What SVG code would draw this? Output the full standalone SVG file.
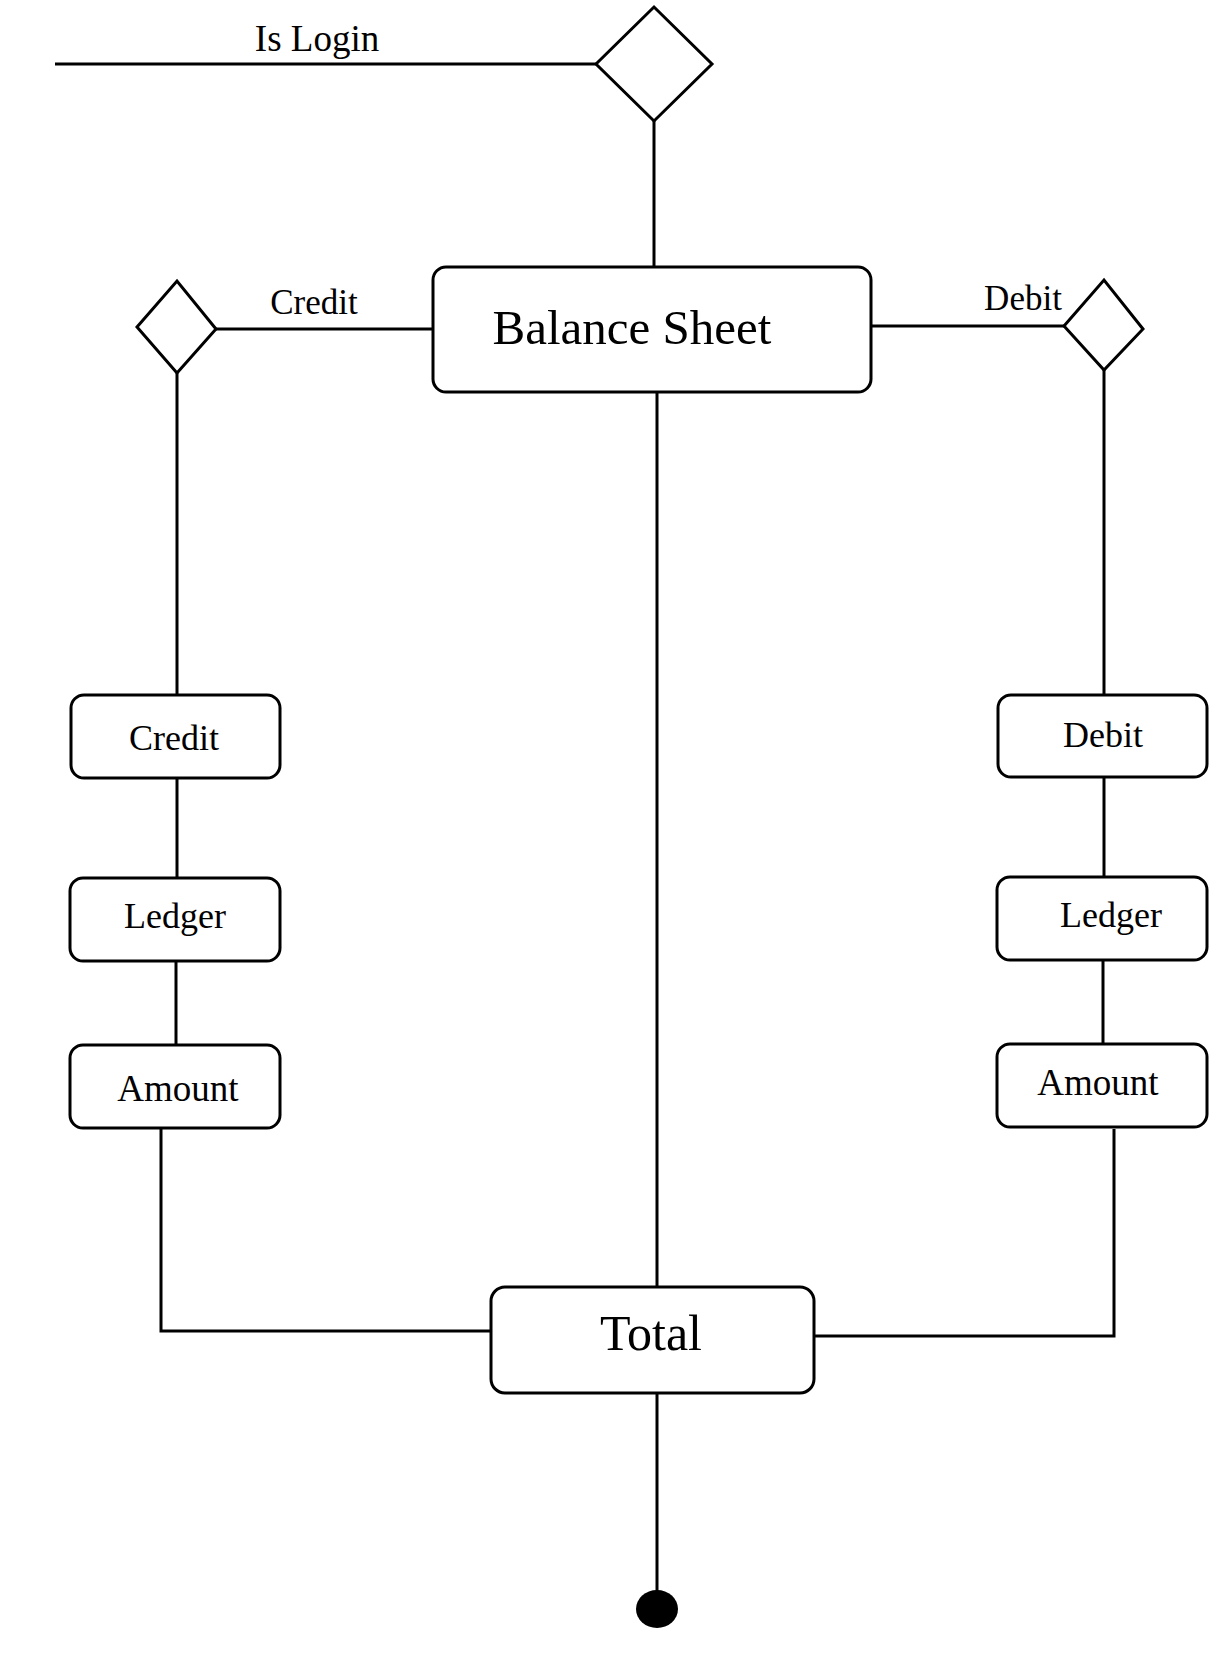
<svg xmlns="http://www.w3.org/2000/svg" width="1224" height="1656" viewBox="0 0 1224 1656">
<style>
.box{fill:#fff;stroke:#000;stroke-width:3}
.dia{fill:#fff;stroke:#000;stroke-width:3;stroke-linejoin:miter}
.ln{fill:none;stroke:#000;stroke-width:3}
.t{font-family:"Liberation Serif","Times New Roman",serif;fill:#000}
</style>
<rect width="1224" height="1656" fill="#fff"/>
<g id="connectors">
<line class="ln" x1="55" y1="64" x2="596" y2="64"/>
<line class="ln" x1="654" y1="121" x2="654" y2="267"/>
<line class="ln" x1="215" y1="329" x2="433" y2="329"/>
<line class="ln" x1="871" y1="326" x2="1064" y2="326"/>
<line class="ln" x1="177" y1="373" x2="177" y2="695"/>
<line class="ln" x1="1104" y1="370" x2="1104" y2="695"/>
<line class="ln" x1="177" y1="778" x2="177" y2="878"/>
<line class="ln" x1="176" y1="961" x2="176" y2="1045"/>
<line class="ln" x1="1104" y1="777" x2="1104" y2="877"/>
<line class="ln" x1="1103" y1="960" x2="1103" y2="1044"/>
<line class="ln" x1="657" y1="392" x2="657" y2="1287"/>
<polyline class="ln" points="161,1128 161,1331 491,1331"/>
<polyline class="ln" points="1114,1129 1114,1336 814,1336"/>
<line class="ln" x1="657" y1="1393" x2="657" y2="1595"/>
</g>
<g id="label-islogin"><text class="t" x="317" y="51" font-size="37" text-anchor="middle">Is Login</text></g>
<g id="label-credit"><text class="t" x="314" y="314" font-size="35" text-anchor="middle">Credit</text></g>
<g id="label-debit"><text class="t" x="1023" y="310" font-size="35" text-anchor="middle">Debit</text></g>
<g id="decision-login"><polygon class="dia" points="596,64 654,7 712,64 654,121"/></g>
<g id="decision-credit"><polygon class="dia" points="137,327 177,281 216,329 177,373"/></g>
<g id="decision-debit"><polygon class="dia" points="1064,326 1104,280 1143,329 1104,370"/></g>
<g id="balance-sheet">
<rect class="box" x="433" y="267" width="438" height="125" rx="13"/>
<text class="t" x="632" y="344" font-size="49" text-anchor="middle">Balance Sheet</text>
</g>
<g id="credit"><rect class="box" x="71" y="695" width="209" height="83" rx="13"/><text class="t" x="174" y="750" font-size="36" text-anchor="middle">Credit</text></g>
<g id="ledger-left"><rect class="box" x="70" y="878" width="210" height="83" rx="13"/><text class="t" x="175" y="928" font-size="36" text-anchor="middle">Ledger</text></g>
<g id="amount-left"><rect class="box" x="70" y="1045" width="210" height="83" rx="13"/><text class="t" x="178" y="1101" font-size="37" text-anchor="middle">Amount</text></g>
<g id="debit"><rect class="box" x="998" y="695" width="209" height="82" rx="13"/><text class="t" x="1103" y="747" font-size="36" text-anchor="middle">Debit</text></g>
<g id="ledger-right"><rect class="box" x="997" y="877" width="210" height="83" rx="13"/><text class="t" x="1111" y="927" font-size="36" text-anchor="middle">Ledger</text></g>
<g id="amount-right"><rect class="box" x="997" y="1044" width="210" height="83" rx="13"/><text class="t" x="1098" y="1095" font-size="37" text-anchor="middle">Amount</text></g>
<g id="total"><rect class="box" x="491" y="1287" width="323" height="106" rx="14"/><text class="t" x="651" y="1350" font-size="50" text-anchor="middle">Total</text></g>
<g id="end"><ellipse cx="657" cy="1609" rx="21" ry="19" fill="#000"/></g>
</svg>
